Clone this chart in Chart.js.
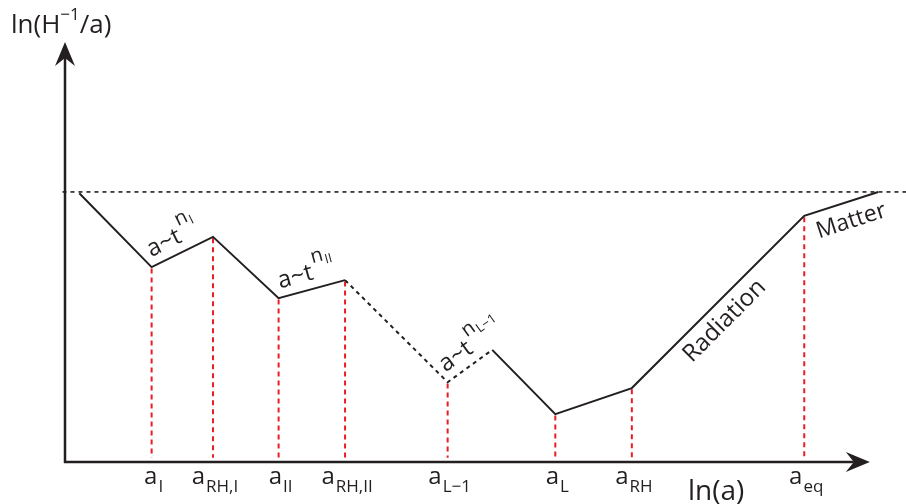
<!DOCTYPE html>
<html lang="en">
<head>
  <meta charset="UTF-8" />
  <title>ln(H^-1/a) vs ln(a)</title>
  <script src="https://cdn.jsdelivr.net/npm/chart.js"></script>
  <style>
    html, body { margin: 0; padding: 0; background: #fff; }
    #chart { display: block; }
  </style>
</head>
<body>
  <canvas id="chart" width="906" height="504"></canvas>

  <script>
    // comoving Hubble radius sketch, arbitrary units (0..100 on both axes)
    const lnA  = [1.7, 10.3, 17.6, 25.4, 33.3, 45.5, 50.8, 58.3, 67.4, 87.9, 96.7];
    const lnHa = [64.0, 46.4, 53.6, 39.0, 43.3, 19.0, 26.7, 11.4, 17.6, 58.6, 64.3];
    const dashedFrom = [4, 5];              // segments drawn dashed (start index)
    const horizonLevel = 64.3;

    // points marked with red lines + their labels on the x axis
    const markerIdx = [1, 2, 3, 4, 5, 7, 8, 9];
    const tickSubs  = ['I', 'RH,I', 'II', 'RH,II', 'L\u22121', 'L', 'RH', 'eq'];

    // era labels: [start index, superscript subscript]
    const eraLabels = [[1, 'I'], [3, 'II'], [5, 'L\u22121']];

    const INK = '#231f20';
    const RED = '#ed1c24';
    const FONT = '"Open Sans", "Noto Sans", sans-serif';

    function px(chart, i) {
      return {
        x: chart.scales.x.getPixelForValue(lnA[i]),
        y: chart.scales.y.getPixelForValue(lnHa[i])
      };
    }

    // draw text made of runs with different sizes / offsets
    function drawRuns(ctx, x, y, angle, runs, align) {
      ctx.save();
      ctx.translate(x, y);
      ctx.rotate(angle);
      ctx.fillStyle = INK;
      ctx.textBaseline = 'alphabetic';
      ctx.textAlign = 'left';
      let total = 0;
      runs.forEach(r => {
        ctx.font = `${r.size}px ${FONT}`;
        total += ctx.measureText(r.t).width + (r.gap || 0);
      });
      let cx = align === 'center' ? -total / 2 : 0;
      runs.forEach(r => {
        ctx.font = `${r.size}px ${FONT}`;
        ctx.fillText(r.t, cx + (r.dx || 0), r.dy || 0);
        cx += ctx.measureText(r.t).width + (r.gap || 0);
      });
      ctx.restore();
    }

    function segAngle(chart, i) {
      const a = px(chart, i), b = px(chart, i + 1);
      return Math.atan2(b.y - a.y, b.x - a.x);
    }

    const sketchPlugin = {
      id: 'sketch',
      afterDraw(chart) {
        const ctx = chart.ctx;
        const xs = chart.scales.x, ys = chart.scales.y;
        const ox = xs.getPixelForValue(0), oy = ys.getPixelForValue(0);
        const xEnd = xs.getPixelForValue(95.7), yEnd = ys.getPixelForValue(100);

        // axes
        ctx.save();
        ctx.strokeStyle = INK;
        ctx.fillStyle = INK;
        ctx.lineWidth = 2.5;
        ctx.beginPath();
        ctx.moveTo(ox, oy + 1);
        ctx.lineTo(ox, yEnd + 16);
        ctx.moveTo(ox - 1, oy);
        ctx.lineTo(xEnd - 16, oy);
        ctx.stroke();
        // arrow heads
        ctx.beginPath();
        ctx.moveTo(ox, yEnd);
        ctx.lineTo(ox + 10, yEnd + 24);
        ctx.lineTo(ox, yEnd + 16);
        ctx.lineTo(ox - 10, yEnd + 24);
        ctx.closePath();
        ctx.fill();
        ctx.beginPath();
        ctx.moveTo(xEnd, oy);
        ctx.lineTo(xEnd - 24, oy - 10);
        ctx.lineTo(xEnd - 16, oy);
        ctx.lineTo(xEnd - 24, oy + 10);
        ctx.closePath();
        ctx.fill();
        ctx.restore();

        // axis titles
        drawRuns(ctx, 11, 33, 0, [
          { t: 'ln(H', size: 26 },
          { t: '\u22121', size: 17, dy: -13 },
          { t: '/a)', size: 26 }
        ]);
        drawRuns(ctx, 688, 500, 0, [{ t: 'ln(a)', size: 28 }]);

        // x tick labels
        markerIdx.forEach((idx, k) => {
          const x = xs.getPixelForValue(lnA[idx]);
          drawRuns(ctx, x + 2, 484, 0, [
            { t: 'a', size: 24, gap: 1 },
            { t: tickSubs[k], size: 17, dy: 8 }
          ], 'center');
        });

        // era labels a~t^{n_X}
        eraLabels.forEach(([i, sub]) => {
          const p = px(chart, i);
          const ang = segAngle(chart, i);
          drawRuns(ctx, p.x, p.y, ang, [
            { t: 'a~t', size: 24, dx: 4, dy: -9, gap: 6 },
            { t: 'n', size: 20, dy: -25, gap: 1 },
            { t: sub, size: 13, dy: -21 }
          ]);
        });

        // Radiation / Matter along their segments
        let p = px(chart, 8);
        drawRuns(ctx, p.x, p.y, segAngle(chart, 8), [
          { t: 'Radiation', size: 24, dx: 60, dy: 25 }
        ]);
        p = px(chart, 9);
        drawRuns(ctx, p.x, p.y, segAngle(chart, 9), [
          { t: 'Matter', size: 23, dx: 7, dy: 26 }
        ]);
      }
    };

    const curve = lnA.map((x, i) => ({ x, y: lnHa[i] }));

    const redLines = markerIdx.map(i => ({
      data: [{ x: lnA[i], y: lnHa[i] - 0.3 }, { x: lnA[i], y: 1 }],
      borderColor: RED,
      borderWidth: 2,
      borderDash: [5, 4],
      pointRadius: 0,
      order: 2
    }));

    new Chart(document.getElementById('chart'), {
      type: 'line',
      data: {
        datasets: [
          {
            data: curve,
            borderColor: INK,
            borderWidth: 2,
            pointRadius: 0,
            tension: 0,
            order: 0,
            segment: {
              borderDash: c => dashedFrom.includes(c.p0DataIndex) ? [4, 4] : undefined
            }
          },
          {
            data: [{ x: -0.3, y: horizonLevel }, { x: 100, y: horizonLevel }],
            borderColor: INK,
            borderWidth: 1.6,
            borderDash: [4, 4],
            pointRadius: 0,
            clip: false,
            order: 1
          },
          ...redLines
        ]
      },
      options: {
        responsive: false,
        animation: false,
        layout: { padding: { left: 65, right: 0, top: 42, bottom: 42 } },
        scales: {
          x: { type: 'linear', min: 0, max: 100, display: false },
          y: { type: 'linear', min: 0, max: 100, display: false }
        },
        plugins: {
          legend: { display: false },
          tooltip: { enabled: false }
        }
      },
      plugins: [sketchPlugin]
    });
  </script>
</body>
</html>
